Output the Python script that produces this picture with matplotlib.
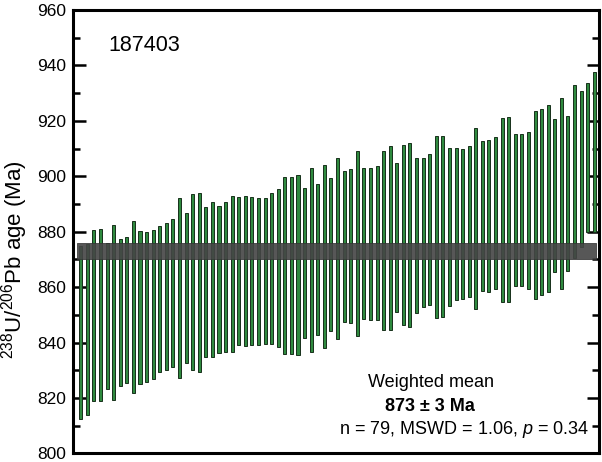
import numpy as np
import matplotlib
matplotlib.use("Agg")
import matplotlib.pyplot as plt
from matplotlib.ticker import MultipleLocator

plt.rcParams['font.family'] = ['Liberation Sans', 'DejaVu Sans']
plt.rcParams['mathtext.fontset'] = 'custom'
plt.rcParams['mathtext.rm'] = 'Liberation Sans'
plt.rcParams['mathtext.it'] = 'Liberation Sans:italic'
plt.rcParams['mathtext.bf'] = 'Liberation Sans:bold'

sample = '187403'

# 2-sigma age ranges of each analysis (Ma), sorted by age
upper = [875.0, 875.4, 880.5, 880.9, 876.1, 882.3, 877.3, 878.0, 883.8, 880.2,
         879.9, 880.5, 882.0, 883.3, 884.6, 892.2, 886.7, 893.5, 894.1, 888.8,
         890.9, 889.2, 890.9, 892.9, 892.6, 892.9, 892.6, 892.2, 892.2, 894.1,
         895.3, 899.9, 899.9, 900.3, 895.7, 902.9, 897.1, 904.0, 899.5, 906.5,
         902.0, 902.7, 909.3, 902.9, 902.9, 903.7, 909.3, 911.0, 904.7, 911.4,
         912.0, 906.5, 906.5, 908.0, 914.7, 914.4, 910.2, 910.2, 909.9, 911.0,
         917.4, 912.9, 913.2, 914.0, 921.1, 921.3, 915.3, 915.3, 915.9, 923.5,
         924.4, 925.7, 920.7, 928.3, 921.6, 932.9, 930.6, 933.5, 937.7]
lower = [812.5, 813.8, 818.8, 818.8, 823.1, 819.2, 824.5, 825.5, 821.9, 825.2,
         825.8, 827.0, 829.4, 830.2, 831.2, 827.1, 832.8, 830.2, 829.4, 834.7,
         834.7, 836.2, 836.7, 836.7, 839.2, 838.8, 839.2, 839.2, 839.4, 839.4,
         838.5, 835.8, 835.8, 835.5, 841.8, 836.7, 842.6, 837.9, 844.1, 841.3,
         847.3, 847.0, 842.3, 848.6, 848.2, 848.0, 844.4, 844.7, 851.0, 846.2,
         845.6, 850.6, 852.9, 853.6, 848.9, 849.2, 853.3, 855.2, 855.6, 856.6,
         852.3, 858.7, 858.3, 859.5, 854.6, 854.6, 860.3, 860.3, 859.5, 855.9,
         857.2, 858.3, 865.4, 859.5, 866.0, 870.5, 874.6, 879.8, 880.0]

mean_age = 873
mean_err = 3
n_spots = 79
mswd = 1.06
p_value = 0.34

upper = np.array(upper)
lower = np.array(lower)
x = np.arange(1, len(upper) + 1)

fig = plt.figure(figsize=(6.02, 4.62), dpi=100)
ax = fig.add_axes([0.1213, 0.0184, 0.8737, 0.9600])

ax.bar(x, upper - lower, bottom=lower, width=0.46,
       color='#2f8a3f', edgecolor='#17301a', linewidth=0.7, zorder=2)

# weighted mean band
ax.fill_between([0.4, 79.2], mean_age - mean_err, mean_age + mean_err,
                color='#454545', alpha=0.9, linewidth=0.6,
                edgecolor='#333333', zorder=3)

ax.set_xlim(-0.17, 79.71)
ax.set_ylim(800, 960)
ax.yaxis.set_major_locator(MultipleLocator(20))
ax.yaxis.set_minor_locator(MultipleLocator(10))
ax.tick_params(axis='y', which='major', direction='in', length=9, width=1.8,
               labelsize=12.5, right=True, pad=5)
ax.tick_params(axis='y', which='minor', direction='in', length=5, width=1.8,
               right=True)
ax.set_xticks([])
for s in ax.spines.values():
    s.set_linewidth(2.2)

fig.text(15 / 602, 1 - 260 / 462, r'$^{238}$U/$^{206}$Pb age (Ma)',
         rotation=90, fontsize=16, ha='center', va='center')

ax.text(0.067, 0.921, sample, transform=ax.transAxes, fontsize=15.5,
        va='center', ha='left')

ax.text(0.681, 0.159, 'Weighted mean', transform=ax.transAxes, fontsize=13,
        ha='center', va='center')
ax.text(0.679, 0.107, f'{mean_age} ± {mean_err} Ma', transform=ax.transAxes,
        fontsize=13, ha='center', va='center', fontweight='bold')
ax.text(0.743, 0.055, f'n = {n_spots}, MSWD = {mswd:.2f}, $p$ = {p_value:.2f}',
        transform=ax.transAxes, fontsize=13, ha='center', va='center')

fig.savefig('out.png', dpi=100)
